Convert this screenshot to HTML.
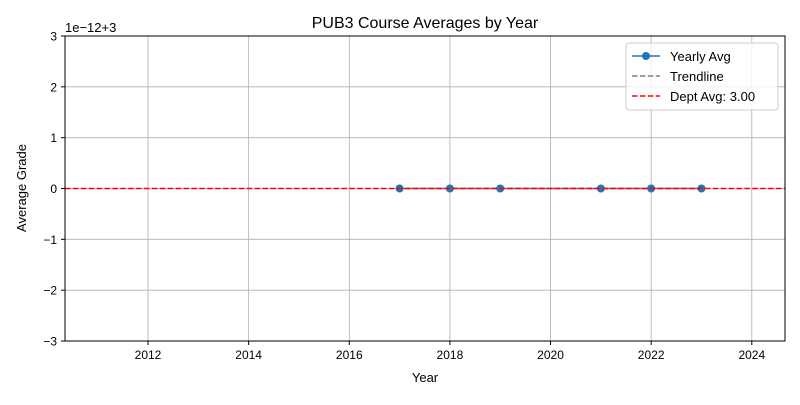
<!DOCTYPE html>
<html><head><meta charset="utf-8"><style>
body{margin:0;background:#fff;}
svg text{font-family:"Liberation Sans","DejaVu Sans",sans-serif;}
</style></head><body>
<svg id="chart" width="800" height="400" xmlns="http://www.w3.org/2000/svg">
<rect width="800" height="400" fill="#fff"/>
<g id="grid"></g>
<g id="series"></g>
<rect x="65" y="36" width="720" height="305" fill="none" stroke="#000" stroke-width="1"/>
<g id="ticks"></g>
<text x="425" y="28" text-anchor="middle" font-size="16">PUB3 Course Averages by Year</text>
<text x="425" y="382" text-anchor="middle" font-size="13">Year</text>
<text x="26" y="188" text-anchor="middle" font-size="13" transform="rotate(-90 26 188)">Average Grade</text>
<text x="65" y="32" font-size="13">1e−12+3</text>
<g>
<rect x="626" y="43" width="152" height="67" rx="3" fill="#fff" fill-opacity="0.8" stroke="#ccc"/>
<g><line x1="632" y1="56" x2="660" y2="56" stroke="#1f77b4" stroke-width="1.5"/><circle cx="646" cy="56" r="4" fill="#1f77b4"/><text x="670" y="61" font-size="13">Yearly Avg</text></g>
<g><line x1="632" y1="76" x2="660" y2="76" stroke="#808080" stroke-width="1.5" stroke-dasharray="5.5,2.4"/><text x="670" y="81" font-size="13">Trendline</text></g>
<g><line x1="632" y1="96" x2="660" y2="96" stroke="#ff0000" stroke-width="1.5" stroke-dasharray="5.5,2.4"/><text x="670" y="101" font-size="13">Dept Avg: 3.00</text></g>
</g>
</svg>
<script>
const years=[2017,2018,2019,2021,2022,2023];
const offsets=[0,0,0,0,0,0];
const trend=[0,0,0,0,0,0];
const deptAvg=0;
const xTicks=[2012,2014,2016,2018,2020,2022,2024];
const yTicks=[-3,-2,-1,0,1,2,3];
const L=65,R=785,T=36,B=341,x0=2010.35,x1=2024.66,y0=-3,y1=3;
const X=v=>L+(v-x0)/(x1-x0)*(R-L);
const Y=v=>B-(v-y0)/(y1-y0)*(B-T);
const NS="http://www.w3.org/2000/svg";
function mk(p,t,a){const e=document.createElementNS(NS,t);for(const k in a)e.setAttribute(k,a[k]);p.appendChild(e);return e;}
const g=document.getElementById('grid'),tk=document.getElementById('ticks'),s=document.getElementById('series');
xTicks.forEach(v=>{const x=X(v);
const l=mk(g,'line',{x1:x,x2:x,y1:T,y2:B,stroke:'#b0b0b0','stroke-width':0.8});


mk(tk,'line',{x1:x,x2:x,y1:B,y2:B+4,stroke:'#000'});
const t=mk(tk,'text',{x:x,y:B+18,'text-anchor':'middle','font-size':12});t.textContent=v;

});
yTicks.forEach(v=>{const y=Y(v);
const l=mk(g,'line',{x1:L,x2:R,y1:y,y2:y,stroke:'#b0b0b0','stroke-width':0.8});


mk(tk,'line',{x1:L-4,x2:L,y1:y,y2:y,stroke:'#000'});
const t=mk(tk,'text',{x:L-8,y:y+4.5,'text-anchor':'end','font-size':12});t.textContent=v<0?'−'+(-v):v;

});
const pts=years.map((yr,i)=>X(yr)+','+Y(offsets[i])).join(' ');
const pl=mk(s,'polyline',{points:pts,fill:'none',stroke:'#1f77b4','stroke-width':1.5});


const tl=mk(s,'line',{x1:X(years[0]),x2:X(years[years.length-1]),y1:Y(trend[0]),y2:Y(trend[trend.length-1]),stroke:'#808080','stroke-width':1.5,'stroke-dasharray':'5.5,2.4'});


years.forEach((yr,i)=>{const c=mk(s,'circle',{cx:X(yr),cy:Y(offsets[i]),r:4,fill:'#1f77b4'});

});
const d=mk(s,'line',{x1:L,x2:R,y1:Y(deptAvg),y2:Y(deptAvg),stroke:'#ff0000','stroke-width':1.5,'stroke-dasharray':'5.5,2.4'});


</script>
</body></html>
